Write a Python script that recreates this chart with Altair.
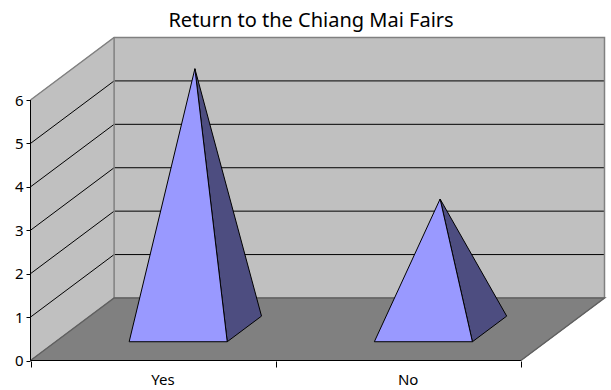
import altair as alt
import pandas as pd

# Chart values
categories = ["Yes", "No"]
answers = [6, 3]
value_ticks = [0, 1, 2, 3, 4, 5, 6]

# Oblique projection of the 3D box, in axis units
DEPTH_X = 0.341   # category units per full depth
DEPTH_Y = 1.44    # value units per full depth
PYRAMID_HALF = 0.2
BASE_FRONT, BASE_BACK = 0.3, 0.71

WALL = "#C0C0C0"
FLOOR = "#808080"
EDGE = "#808080"
FRONT_FACE = "#9999FF"
SIDE_FACE = "#4D4D80"
TEXT_FONT = "Noto Sans"

x_scale = alt.Scale(domain=[0, 2 + DEPTH_X], range=[0.5, 574.5], nice=False, zero=False)
y_scale = alt.Scale(domain=[0, 7.44], range=[322.5, -0.5], nice=False, zero=False)

label_map = "datum.value == 0 ? '" + categories[0] + "' : datum.value == 1 ? '" + categories[1] + "' : ''"
x_axis = alt.Axis(
    values=[0, 1, 2], title=None, grid=False, domain=False,
    tickColor="#000000", tickSize=6, labelExpr=label_map,
    labelOffset=132, labelFontSize=15, labelColor="#000000",
    labelFont=TEXT_FONT, labelPadding=5, labelFlush=False,
    labelOverlap=False, labelBound=False,
)
y_axis = alt.Axis(
    values=value_ticks, title=None, grid=False, domain=False,
    tickColor="#000000", tickSize=4, labelFontSize=15,
    labelColor="#000000", labelFont=TEXT_FONT, labelPadding=3,
    format="d",
)
x_enc = alt.X("px:Q", scale=x_scale, axis=x_axis)
y_enc = alt.Y("py:Q", scale=y_scale, axis=y_axis)


def project(cat, value, depth):
    return cat + depth * DEPTH_X, value + depth * DEPTH_Y


def frame(points):
    rows = []
    for i, (c, v, d) in enumerate(points):
        px, py = project(c, v, d)
        rows.append({"px": px, "py": py, "o": i})
    return pd.DataFrame(rows)


def enc(chart):
    return chart.encode(x=x_enc, y=y_enc, order="o:Q")


def polygon(points, fill, stroke=None, width=1):
    style = {"fill": fill, "interpolate": "linear-closed", "strokeWidth": width,
             "stroke": stroke if stroke else fill}
    return enc(alt.Chart(frame(points)).mark_line(**style))


def polyline(points, color, width=1):
    return enc(alt.Chart(frame(points)).mark_line(color=color, strokeWidth=width))


top = value_ticks[-1]
layers = [
    polygon([(0, 0, 1), (2, 0, 1), (2, top, 1), (0, top, 1)], WALL),
    polygon([(0, 0, 0), (0, 0, 1), (0, top, 1), (0, top, 0)], WALL),
    polygon([(0, 0, 0), (2, 0, 0), (2, 0, 1), (0, 0, 1)], FLOOR),
]

# Gridlines run along the side wall and across the back wall
for v in value_ticks[1:-1]:
    layers.append(polyline([(0, v, 0), (0, v, 1), (2, v, 1)], "#000000"))

layers += [
    polyline([(0, top, 0), (0, top, 1), (2, top, 1), (2, 0, 1)], EDGE, 1.5),
    polyline([(0, 0, 1), (0, top, 1)], EDGE, 1.5),
    polyline([(0, 0, 0), (0, 0, 1), (2, 0, 1), (2, 0, 0)], "#606060", 1.5),
]

# One pyramid per category; the apex sits at mid depth
for i, val in enumerate(answers):
    c = i + 0.5
    left, right = c - PYRAMID_HALF, c + PYRAMID_HALF
    apex = (c, val, 0.5)
    layers.append(polygon([(right, 0, BASE_FRONT), (right, 0, BASE_BACK), apex], SIDE_FACE, "#000000"))
    layers.append(polygon([(left, 0, BASE_FRONT), (right, 0, BASE_FRONT), apex], FRONT_FACE, "#000000"))

# Axis lines sit on the front edge of the box
layers.append(polyline([(0, top, 0), (0, 0, 0), (2, 0, 0)], "#000000"))

chart = (
    alt.layer(*layers)
    .properties(
        width=574,
        height=323,
        padding={"left": 30, "top": 38, "right": 7, "bottom": 29},
        autosize=alt.AutoSizeParams(type="none"),
        background="#FFFFFF",
        title=alt.TitleParams(
            "Return to the Chiang Mai Fairs", anchor="middle", dx=-6, offset=4,
            fontSize=20, fontWeight="normal", font=TEXT_FONT, color="#000000",
        ),
    )
    .configure_view(stroke=None)
)

chart.save("out.html", embed_options={"renderer": "svg", "actions": False})
